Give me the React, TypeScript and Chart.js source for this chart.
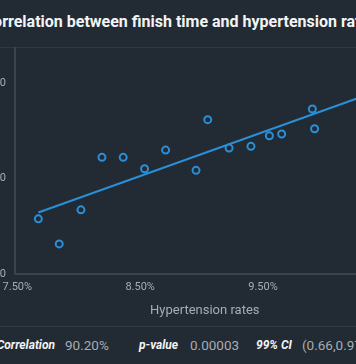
import React, { useEffect, useRef } from "react";
import { Chart, registerables } from "chart.js";

Chart.register(...registerables);

const hypertensionRates = [7.671, 7.841, 8.018, 8.189, 8.362, 8.536, 8.707, 8.955, 9.05, 9.224, 9.402, 9.552, 9.652, 9.902, 9.92];
const finishTimes = [225.79, 223.17, 226.73, 232.22, 232.22, 231.03, 232.98, 230.86, 236.16, 233.19, 233.37, 234.48, 234.66, 237.28, 235.21];
const trendX = [7.671, 10.35];
const trendY = [226.46, 238.77];
const xTicks = [7.5, 8.5, 9.5, 10.5];
const yTicks = [220, 230, 240];
const titleText = "Correlation between finish time and hypertension rates";
const xTitle = "Hypertension rates";
const statLabels = ["Correlation", "p-value", "99% CI"];
const statValues = ["90.20%", "0.00003", "(0.66,0.97)"];

const BG = "#222a33";
const BLUE = "#2b8fd8";
const TICK = "#a7adb3";
const AXIS = "#3a444e";
const SEP = "#2d3a43";
const FONT = "Roboto, 'Noto Sans', sans-serif";
const SHIFT = 70;

function fmtTime(v: number) {
  const h = Math.floor(v / 60);
  const m = Math.round(v - h * 60);
  return h + ":" + String(m).padStart(2, "0");
}

export default function App() {
  const ref = useRef<HTMLCanvasElement | null>(null);

  useEffect(() => {
    document.body.style.margin = "0";
    document.body.style.background = BG;
    const ctx = ref.current!;
    const chart = new Chart(ctx, {
      type: "scatter",
      data: {
        datasets: [
          {
            data: hypertensionRates.map((x, i) => ({ x, y: finishTimes[i] })),
            borderColor: BLUE,
            backgroundColor: BG,
            pointRadius: 3.5,
            pointBorderWidth: 2,
            showLine: false,
          },
          {
            type: "line",
            data: trendX.map((x, i) => ({ x, y: trendY[i] })),
            borderColor: BLUE,
            borderWidth: 2,
            pointRadius: 0,
            fill: false,
          } as any,
        ],
      },
      options: {
        animation: false,
        responsive: false,
        maintainAspectRatio: false,
        layout: { padding: { left: 0, right: 15, top: 0, bottom: 0 } },
        plugins: { legend: { display: false }, tooltip: { enabled: false } },
        scales: {
          x: {
            type: "linear",
            min: 7.481,
            max: 10.571,
            afterBuildTicks: (axis: any) => {
              axis.ticks = xTicks.map((v) => ({ value: v }));
            },
            grid: { display: false, drawTicks: false },
            border: { display: true, color: AXIS, width: 2 },
            ticks: {
              color: TICK,
              font: { family: FONT, size: 11 },
              padding: 6,
              maxRotation: 0,
              callback: (v: any) => Number(v).toFixed(2) + "%",
            },
            title: {
              display: true,
              text: xTitle,
              color: TICK,
              font: { family: FONT, size: 13 },
              padding: { top: 4, bottom: 0 },
            },
          },
          y: {
            type: "linear",
            min: 220,
            max: 243.7,
            afterBuildTicks: (axis: any) => {
              axis.ticks = yTicks.map((v) => ({ value: v }));
            },
            afterFit: (scale: any) => {
              scale.width = 85;
            },
            grid: { display: false, drawTicks: false },
            border: { display: true, color: AXIS, width: 2 },
            ticks: {
              color: TICK,
              font: { family: FONT, size: 11 },
              padding: 9,
              callback: (v: any) => fmtTime(Number(v)),
            },
          },
        },
      },
    });
    return () => chart.destroy();
  }, []);

  const labelLefts = [null, 139, 256];
  const valueLefts = [65, 190, 302];

  return (
    <div style={{ position: "absolute", left: -SHIFT, top: 0, width: 500, height: 364, background: BG, fontFamily: FONT, overflow: "hidden" }}>
      <div style={{ position: "absolute", left: 0, top: 0, width: 500, height: 44, lineHeight: "44px", textAlign: "center", color: "#f2f4f5", fontWeight: 700, fontSize: 16 }}>
        {titleText}
      </div>
      <div style={{ position: "absolute", left: 0, top: 47, width: 500, height: 1, background: SEP }} />
      <canvas ref={ref} width={480} height={287} style={{ position: "absolute", left: 0, top: 32, width: 480, height: 287 }} />
      <div style={{ position: "absolute", left: 0, top: 326, width: 500, height: 1, background: SEP }} />
      <div style={{ position: "absolute", left: 0, top: 327, width: 500, height: 37, lineHeight: "37px", whiteSpace: "nowrap" }}>
        {statLabels.map((s, i) => (
          <span
            key={"l" + i}
            style={
              labelLefts[i] === null
                ? { position: "absolute", right: 500 - (55 + SHIFT), top: 0, color: "#f2f4f5", fontWeight: 700, fontStyle: "italic", fontSize: 12 }
                : { position: "absolute", left: (labelLefts[i] as number) + SHIFT, top: 0, color: "#f2f4f5", fontWeight: 700, fontStyle: "italic", fontSize: 12 }
            }
          >
            {s}
          </span>
        ))}
        {statValues.map((s, i) => (
          <span key={"v" + i} style={{ position: "absolute", left: valueLefts[i] + SHIFT, top: 0, color: TICK, fontSize: 13.5 }}>
            {s}
          </span>
        ))}
      </div>
    </div>
  );
}
